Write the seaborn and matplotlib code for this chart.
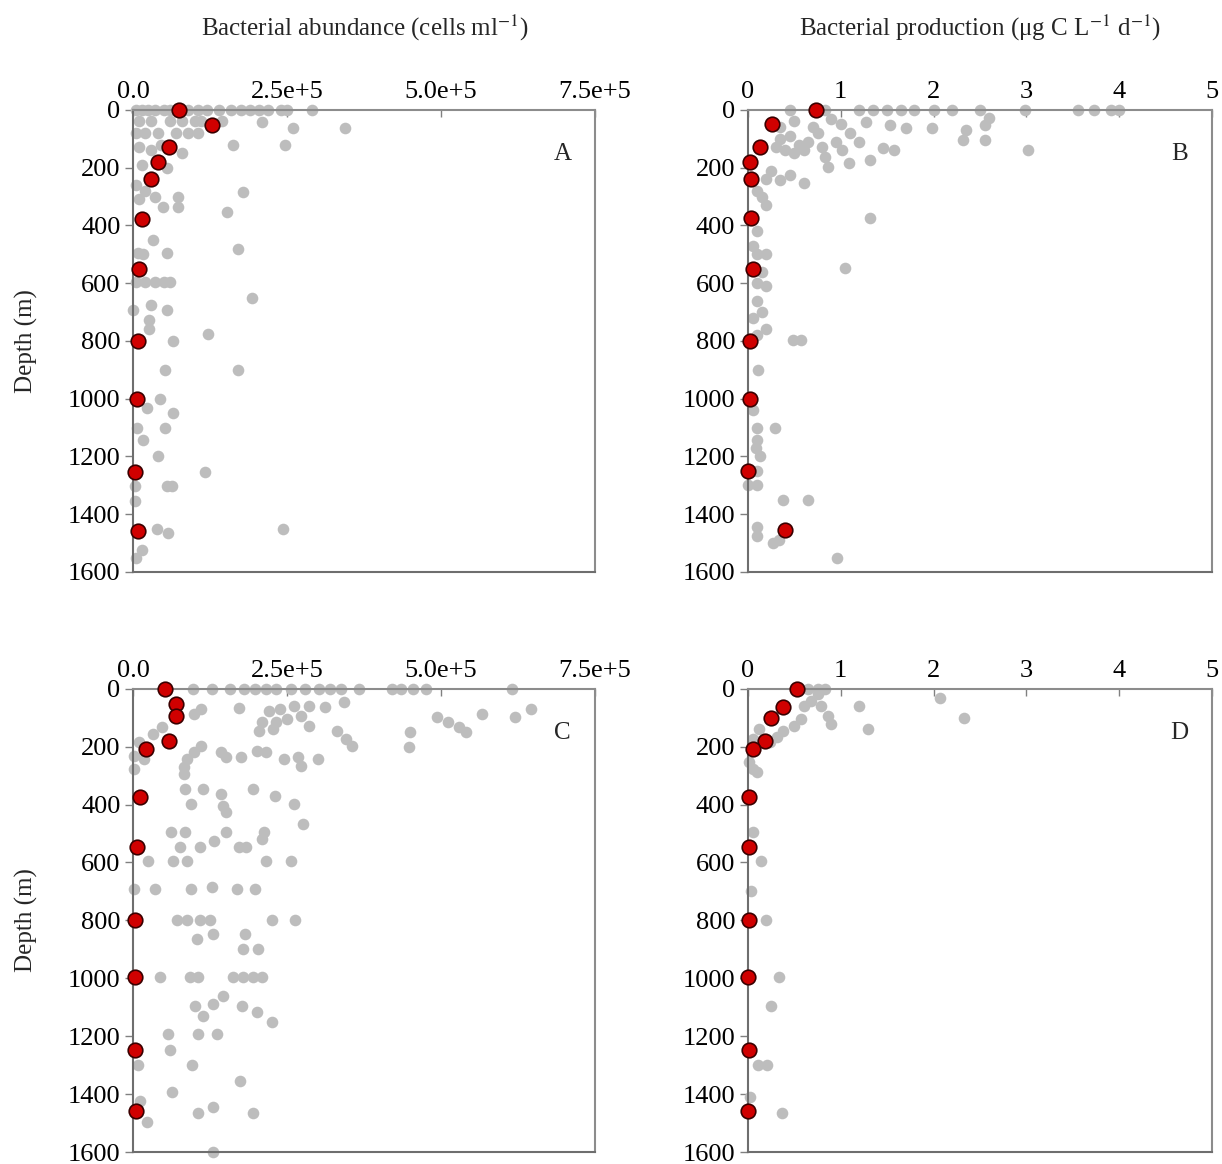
import matplotlib
matplotlib.use("Agg")
import matplotlib.pyplot as plt
import seaborn as sns
import pandas as pd

sns.set_theme(style="white")
plt.rcParams['font.family'] = ['Liberation Serif', 'DejaVu Serif']
plt.rcParams['mathtext.fontset'] = 'stix'

# ---- Panel A: bacterial abundance, station set 1 (cells ml-1) ----
a_gray_x = [5e3, 15e3, 25e3, 35e3, 50e3, 60e3, 90e3, 105e3, 120e3, 140e3, 160e3, 175e3, 190e3, 205e3, 220e3, 240e3, 250e3, 290e3,
            209e3, 260e3, 344e3, 163e3, 247e3, 179e3, 152e3, 171e3, 193e3, 122e3, 65e3,
            10e3, 30e3, 60e3, 80e3, 100e3, 110e3, 145e3, 5e3, 20e3, 40e3, 70e3, 90e3, 105e3,
            10e3, 30e3, 45e3, 80e3, 15e3, 55e3, 5e3, 20e3, 35e3, 73e3, 73e3, 10e3, 49e3,
            33e3, 55e3, 8e3, 16e3, 5e3, 20e3, 35e3, 50e3, 60e3, 0, 30e3, 55e3, 26e3, 26e3,
            52e3, 171e3, 44e3, 65e3, 23e3, 6e3, 52e3, 16e3, 41e3, 117e3, 55e3, 63e3, 3e3, 3e3,
            39e3, 57e3, 244e3, 15e3, 5e3]
a_gray_y = [0, 0, 0, 0, 0, 0, 0, 0, 0, 0, 0, 0, 0, 0, 0, 0, 0, 0,
            42, 63, 63, 121, 121, 284, 352, 482, 650, 776, 800,
            40, 40, 40, 40, 40, 40, 40, 80, 80, 80, 80, 80, 80,
            130, 140, 120, 150, 190, 200, 260, 280, 300, 300, 337, 310, 336,
            450, 496, 496, 500, 596, 596, 596, 596, 596, 692, 675, 692, 727, 760,
            900, 900, 1000, 1050, 1032, 1100, 1100, 1143, 1200, 1253, 1302, 1302, 1302, 1354,
            1451, 1465, 1451, 1524, 1550]
a_red_x = [75e3, 128e3, 58e3, 40e3, 29e3, 15e3, 10e3, 8e3, 6e3, 3e3, 8e3]
a_red_y = [0, 52, 129, 180, 239, 378, 551, 800, 1000, 1253, 1458]

# ---- Panel B: bacterial production, station set 1 (ug C L-1 d-1) ----
b_gray_x = [0.45, 0.83, 1.2, 1.35, 1.5, 1.65, 1.79, 2.0, 2.2, 2.5, 2.98, 3.55, 3.73, 3.91, 4.0,
            1.27, 1.53, 1.70, 1.98, 2.35, 2.32, 2.55, 2.55, 2.6, 3.02, 1.45, 1.57, 1.31, 1.09, 0.86,
            1.01, 0.83, 0.60, 0.45, 0.35, 1.31, 1.05, 0.57, 0.49,
            0.35, 0.45, 0.55, 0.65, 0.4, 0.5, 0.6, 0.75, 0.3, 0.7, 0.5, 0.35, 0.9, 1.0, 1.1, 0.95, 0.8, 1.2,
            0.1, 0.15, 0.2, 0.1, 0.05, 0.1, 0.2, 0.15, 0.1, 0.2, 0.1, 0.15, 0.05, 0.2, 0.1, 0.2, 0.25,
            0.11, 0.29, 0.1, 0.1, 0.13, 0.1, 0.1, 0.0, 0.38, 0.65, 0.1, 0.1, 0.27, 0.33, 0.96, 0.06, 0.09]
b_gray_y = [0, 0, 0, 0, 0, 0, 0, 0, 0, 0, 0, 0, 0, 0, 0,
            42, 52, 63, 63, 69, 104, 52, 104, 28, 139, 132, 139, 173, 184, 197,
            139, 162, 253, 225, 242, 374, 547, 797, 797,
            100, 90, 120, 110, 140, 150, 140, 80, 130, 60, 40, 60, 30, 50, 80, 110, 130, 110,
            280, 300, 330, 420, 470, 500, 500, 560, 600, 610, 660, 700, 720, 760, 780, 240, 210,
            900, 1100, 1100, 1143, 1200, 1250, 1300, 1300, 1350, 1350, 1443, 1475, 1500, 1490, 1552, 1040, 1170]
b_red_x = [0.73, 0.26, 0.13, 0.02, 0.03, 0.03, 0.05, 0.02, 0.02, 0.0, 0.40]
b_red_y = [0, 48, 128, 180, 239, 374, 551, 800, 1000, 1250, 1455]

# ---- Panel C: bacterial abundance, station set 2 ----
c_gray_x = [97e3, 128e3, 158e3, 181e3, 198e3, 216e3, 233e3, 257e3, 280e3, 302e3, 320e3, 338e3, 367e3, 420e3, 436e3, 455e3, 476e3, 616e3,
            343e3, 312e3, 286e3, 262e3, 239e3, 221e3, 273e3, 250e3, 233e3, 210e3, 205e3, 228e3, 286e3, 172e3,
            332e3, 346e3, 355e3, 450e3, 449e3, 494e3, 512e3, 530e3, 541e3, 567e3, 620e3, 646e3,
            111e3, 99e3, 47e3, 33e3, 10e3, 2e3, 18e3, 2e3,
            111e3, 99e3, 88e3, 83e3, 83e3, 143e3, 151e3, 176e3, 202e3, 216e3, 246e3, 268e3, 273e3, 301e3,
            85e3, 114e3, 143e3, 94e3, 146e3, 151e3, 195e3, 231e3, 262e3, 276e3,
            62e3, 85e3, 151e3, 213e3, 132e3, 109e3, 76e3, 172e3, 184e3, 210e3,
            24e3, 65e3, 88e3, 216e3, 257e3, 2e3, 36e3, 94e3, 128e3, 169e3, 198e3,
            72e3, 88e3, 109e3, 125e3, 226e3, 263e3, 104e3, 130e3, 182e3, 179e3, 203e3,
            44e3, 93e3, 106e3, 163e3, 179e3, 195e3, 210e3,
            101e3, 114e3, 130e3, 146e3, 177e3, 202e3, 226e3, 57e3, 106e3, 137e3, 60e3, 96e3, 8e3,
            174e3, 63e3, 106e3, 130e3, 195e3, 23e3, 11e3, 130e3]
c_gray_y = [0, 0, 0, 0, 0, 0, 0, 0, 0, 0, 0, 0, 0, 0, 0, 0, 0, 0,
            45, 62, 59, 59, 69, 76, 93, 104, 114, 114, 145, 138, 128, 66,
            145, 173, 197, 149, 201, 97, 114, 131, 149, 87, 97, 69,
            69, 87, 131, 156, 183, 232, 242, 277,
            197, 218, 242, 270, 294, 218, 235, 235, 214, 218, 242, 235, 266, 242,
            346, 346, 363, 398, 405, 426, 346, 370, 398, 467,
            495, 495, 495, 495, 526, 547, 547, 547, 547, 519,
            595, 595, 595, 595, 595, 692, 692, 692, 685, 692, 692,
            799, 799, 799, 799, 799, 799, 865, 848, 848, 900, 900,
            997, 997, 997, 997, 997, 997, 997,
            1097, 1131, 1090, 1062, 1097, 1118, 1152, 1194, 1194, 1194, 1246, 1298, 1298,
            1356, 1394, 1464, 1446, 1464, 1495, 1425, 1600]
c_red_x = [52e3, 70e3, 70e3, 58e3, 21e3, 11e3, 7e3, 3e3, 3e3, 3e3, 5e3]
c_red_y = [0, 52, 93, 180, 208, 374, 547, 799, 997, 1249, 1460]

# ---- Panel D: bacterial production, station set 2 ----
d_gray_x = [0.83, 0.65, 0.75, 0.75, 0.68, 0.6, 0.79, 0.86, 0.9, 0.57, 0.5, 0.38, 0.31, 0.24, 0.12, 0.06,
            1.2, 1.29, 2.07, 2.33, 0.01, 0.1, 0.05, 0.05, 0.14, 0.03, 0.2,
            0.34, 0.25, 0.11, 0.21, 0.02, 0.37]
d_gray_y = [0, 0, 0, 17, 41, 59, 59, 93, 121, 104, 128, 145, 166, 183, 138, 173,
            59, 138, 31, 100, 253, 287, 277, 495, 595, 700, 797,
            997, 1097, 1298, 1298, 1411, 1464]
d_red_x = [0.53, 0.38, 0.25, 0.18, 0.05, 0.01, 0.01, 0.01, 0.0, 0.01, 0.0]
d_red_y = [0, 62, 100, 180, 208, 374, 547, 799, 997, 1249, 1460]

abund_ticks = [0, 2.5e5, 5e5, 7.5e5]
abund_labels = ["0.0", "2.5e+5", "5.0e+5", "7.5e+5"]
prod_ticks = [0, 1, 2, 3, 4, 5]
prod_labels = ["0", "1", "2", "3", "4", "5"]
depth_ticks = list(range(0, 1601, 200))

panels = [
    ("A", a_gray_x, a_gray_y, a_red_x, a_red_y, abund_ticks, abund_labels, [0.1088, 0.5086, 0.378, 0.397]),
    ("B", b_gray_x, b_gray_y, b_red_x, b_red_y, prod_ticks, prod_labels, [0.612, 0.5086, 0.380, 0.397]),
    ("C", c_gray_x, c_gray_y, c_red_x, c_red_y, abund_ticks, abund_labels, [0.1088, 0.0103, 0.378, 0.398]),
    ("D", d_gray_x, d_gray_y, d_red_x, d_red_y, prod_ticks, prod_labels, [0.612, 0.0103, 0.380, 0.398]),
]

fig = plt.figure(figsize=(12.22, 11.64), dpi=100)

for letter, gx, gy, rx, ry, xt, xl, pos in panels:
    ax = fig.add_axes(pos)
    gray = pd.DataFrame({"x": gx, "y": gy})
    red = pd.DataFrame({"x": rx, "y": ry})
    sns.scatterplot(data=gray, x="x", y="y", ax=ax, color="#bdbdbd", s=70,
                    linewidth=0, clip_on=False, zorder=2)
    sns.scatterplot(data=red, x="x", y="y", ax=ax, color="#d00000", s=110,
                    edgecolor="#3a0000", linewidth=1.2, clip_on=False, zorder=3)
    ax.set_xlim(xt[0], xt[-1])
    ax.set_ylim(1600, 0)
    ax.set_xticks(xt)
    ax.set_xticklabels(xl)
    ax.set_yticks(depth_ticks)
    ax.xaxis.set_ticks_position("top")
    ax.tick_params(axis="x", direction="in", length=5, width=1, colors="#808080",
                   labelcolor="black", labelsize=19, pad=5)
    ax.tick_params(axis="y", direction="out", left=True, length=6, width=1, colors="#808080",
                   labelcolor="black", labelsize=19, pad=3)
    ax.set_xlabel("")
    ax.set_ylabel("")
    for side in ["top", "bottom", "left", "right"]:
        ax.spines[side].set_visible(True)
        ax.spines[side].set_color("#8c8c8c")
        ax.spines[side].set_linewidth(1.5)
    ax.spines["left"].set_color("#6e6e6e")
    ax.spines["bottom"].set_color("#6e6e6e")
    ax.text(0.93, 0.905, letter, transform=ax.transAxes, fontsize=18, ha="center", va="center")
    if letter in ("A", "C"):
        ax.set_ylabel("Depth (m)", fontsize=18)
        ax.yaxis.set_label_coords(-0.205, 0.5)

fig.text(365 / 1222, 1 - 28 / 1164, "Bacterial abundance (cells ml$^{-1}$)", fontsize=18,
         ha="center", va="center")
fig.text(980 / 1222, 1 - 28 / 1164, "Bacterial production (\u03bcg C L$^{-1}$ d$^{-1}$)", fontsize=18,
         ha="center", va="center")

fig.savefig("out.png", dpi=100)
